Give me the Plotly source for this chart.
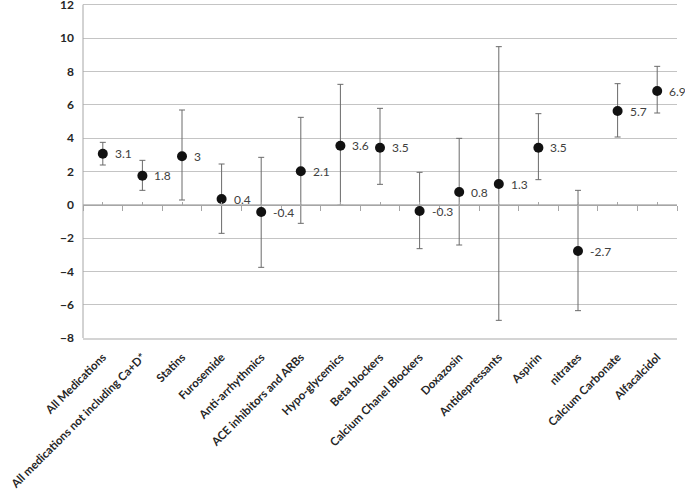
import plotly.graph_objects as go

categories = ["All Medications", "All medications not including Ca+D*", "Statins", "Furosemide",
              "Anti-arrhythmics", "ACE inhibitors and ARBs", "Hypo-glycemics", "Beta blockers",
              "Calcium Chanel Blockers", "Doxazosin", "Antidepressants", "Aspirin", "nitrates",
              "Calcium Carbonate", "Alfacalcidol"]
means = [3.05, 1.74, 2.9, 0.34, -0.44, 2.0, 3.54, 3.42, -0.38, 0.76, 1.24, 3.42, -2.78, 5.62, 6.82]
upper = [3.74, 2.66, 5.68, 2.44, 2.84, 5.24, 7.22, 5.78, 1.94, 3.98, 9.48, 5.46, 0.86, 7.26, 8.3]
lower = [2.38, 0.86, 0.28, -1.72, -3.76, -1.12, -0.04, 1.22, -2.64, -2.42, -6.94, 1.5, -6.36, 4.06, 5.5]
value_labels = ["3.1", "1.8", "3", "0.4", "-0.4", "2.1", "3.6", "3.5", "-0.3", "0.8", "1.3", "3.5",
                "-2.7", "5.7", "6.9"]
y_min, y_max, y_step = -8, 12, 2

err_plus = [u - m for u, m in zip(upper, means)]
err_minus = [m - l for m, l in zip(means, lower)]

FONT = "Lato"
GRID = "#c4c4c4"

fig = go.Figure()
fig.add_trace(go.Scatter(
    x=categories, y=means, mode="markers",
    marker=dict(color="#111111", size=10),
    error_y=dict(type="data", symmetric=False, array=err_plus, arrayminus=err_minus,
                 color="#6a6a6a", thickness=1, width=3),
    cliponaxis=False, showlegend=False,
))
# helper traces so the zero-line axes are rendered
fig.add_trace(go.Scatter(x=[None], y=[None], xaxis="x2", yaxis="y", showlegend=False, hoverinfo="skip"))
fig.add_trace(go.Scatter(x=[None], y=[None], xaxis="x3", yaxis="y", showlegend=False, hoverinfo="skip"))

for c, m, t in zip(categories, means, value_labels):
    fig.add_annotation(x=c, y=m, xref="x", yref="y", text=t, showarrow=False,
                       xanchor="left", yanchor="middle", xshift=10,
                       font=dict(family=FONT, size=12, color="#404040"))

n = len(categories)
y_lo, y_hi = y_min, y_max + 0.28
zero_pos = (0 - y_lo) / (y_hi - y_lo)
fig.update_layout(
    width=685, height=498,
    margin=dict(l=83, r=8, t=0, b=160),
    paper_bgcolor="white", plot_bgcolor="white",
    font=dict(family=FONT, color="#262626"),
    xaxis=dict(type="category", categoryarray=categories, range=[-0.5, n - 0.5],
               showgrid=False, zeroline=False, showline=True, linecolor="#d4d4d4", linewidth=2,
               ticks="", tickangle=-45, ticklabelstandoff=6, automargin=False,
               ticklabeloverflow="allow",
               tickfont=dict(family=FONT, size=11.5, color="#262626", weight="bold")),
    xaxis2=dict(overlaying="x", anchor="free", position=zero_pos, side="bottom",
                range=[-0.5, n - 0.5], tickmode="linear", tick0=-0.5, dtick=1,
                ticks="outside", ticklen=5, tickcolor="#a6a6a6", showline=True,
                linecolor="#a6a6a6", linewidth=1, showticklabels=False,
                showgrid=False, zeroline=False, automargin=False),
    xaxis3=dict(overlaying="x", anchor="free", position=zero_pos, side="top",
                range=[-0.5, n - 0.5], tickmode="linear", tick0=0, dtick=1,
                ticks="outside", ticklen=3, tickcolor="#a6a6a6", showline=False,
                showticklabels=False, showgrid=False, zeroline=False, automargin=False),
    yaxis=dict(type="linear", range=[y_lo, y_hi], tickmode="linear", tick0=y_min, dtick=y_step,
               showgrid=True, gridcolor=GRID, gridwidth=1,
               zeroline=False, showline=False, automargin=False,
               ticks="", ticklabelstandoff=8, ticklabeloverflow="allow",
               tickfont=dict(family=FONT, size=12, color="#262626", weight="bold")),
    # vertical value axis line spanning -8..12, as in the reference
    shapes=[dict(type="line", xref="paper", yref="y", x0=0, x1=0, y0=y_min, y1=y_max,
                 line=dict(color="#a6a6a6", width=1))],
)

fig.write_html("out.html", config={"displayModeBar": False})

# remove the browser's default page margin so the figure sits at the window's corner
with open("out.html", "r", encoding="utf-8") as f:
    html = f.read()
html = html.replace("<head>", "<head><style>html,body{margin:0;padding:0;overflow:hidden}</style>", 1)
with open("out.html", "w", encoding="utf-8") as f:
    f.write(html)
